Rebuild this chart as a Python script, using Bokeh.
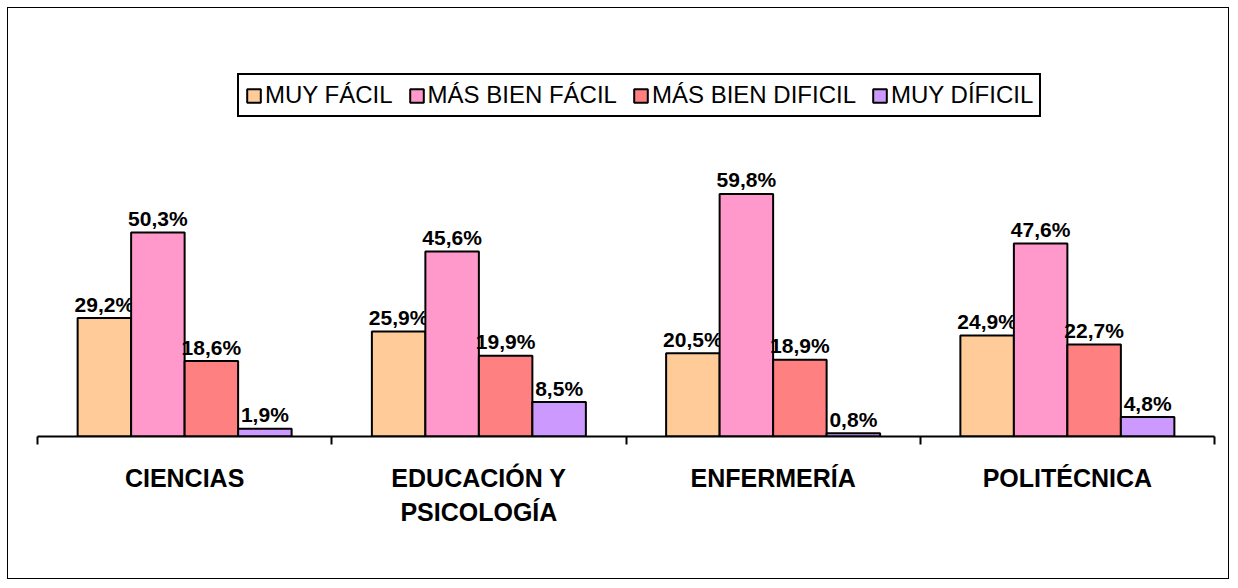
from bokeh.plotting import figure
from bokeh.models import Range1d, FixedTicker, Legend, LegendItem, ColumnDataSource
from bokeh.transform import dodge
from bokeh.core.properties import value
from bokeh.embed import file_html
from bokeh.resources import INLINE

# ---- data ----
categories = ["CIENCIAS", "EDUCACIÓN Y PSICOLOGÍA", "ENFERMERÍA", "POLITÉCNICA"]
category_labels = ["CIENCIAS", "EDUCACIÓN Y\nPSICOLOGÍA", "ENFERMERÍA", "POLITÉCNICA"]
series_names = ["MUY FÁCIL", "MÁS BIEN FÁCIL", "MÁS BIEN DIFICIL", "MUY DÍFICIL"]
muy_facil = [29.2, 25.9, 20.5, 24.9]
mas_bien_facil = [50.3, 45.6, 59.8, 47.6]
mas_bien_dificil = [18.6, 19.9, 18.9, 22.7]
muy_dificil = [1.9, 8.5, 0.8, 4.8]
series_values = [muy_facil, mas_bien_facil, mas_bien_dificil, muy_dificil]
colors = ["#FFCC99", "#FF99CC", "#FF8080", "#CC99FF"]

FONT = "Liberation Sans"
W, H = 1222, 572
n = len(categories)
bw = 1 / 5.5  # four bars plus a 150% gap per category
centers = [i + 0.5 for i in range(n)]  # category slot centres on the x scale

p = figure(width=W, height=H, output_backend="svg", toolbar_location=None, title=None,
           x_range=Range1d(0, n), y_range=Range1d(0, 105.5),
           y_axis_location=None,
           min_border_left=29, min_border_right=16, min_border_top=0, min_border_bottom=144)
p.xgrid.visible = False
p.ygrid.visible = False
p.outline_line_color = None
p.background_fill_color = "white"
p.border_fill_color = "white"
p.styles = {"border": "1px solid black", "margin": "7px 0 0 7px"}


def fmt(v):
    return f"{v:.1f}".replace(".", ",") + "%"


items = []
for j, (name, vals) in enumerate(zip(series_names, series_values)):
    src = ColumnDataSource(dict(xc=centers, cat=categories, val=vals,
                                label=[fmt(v) for v in vals]))
    xx = dodge("xc", (j - 1.5) * bw)
    r = p.vbar(x=xx, top="val", width=bw, source=src,
               fill_color=colors[j], line_color="black", line_width=2)
    p.text(x=xx, y="val", text="label", source=src,
           text_align="center", text_baseline="alphabetic", y_offset=-14,
           text_font=value(FONT), text_font_style="bold", text_font_size="21px",
           text_color="black")
    items.append(LegendItem(label=name, renderers=[r]))

ax = p.xaxis[0]
ax.ticker = FixedTicker(ticks=centers, minor_ticks=list(range(n + 1)))
ax.major_label_overrides = {c: lab for c, lab in zip(centers, category_labels)}
ax.major_tick_line_color = None
ax.major_tick_out = 0
ax.major_tick_in = 0
ax.minor_tick_in = 0
ax.minor_tick_out = 8
ax.minor_tick_line_color = "black"
ax.minor_tick_line_width = 2
ax.axis_line_color = "black"
ax.axis_line_width = 2
ax.major_label_standoff = 19
ax.major_label_text_font = FONT
ax.major_label_text_font_style = "bold"
ax.major_label_text_font_size = "25px"
ax.major_label_text_line_height = 1.22
ax.major_label_text_color = "black"

legend = Legend(items=items, orientation="horizontal", location=(200, 319),
                glyph_width=17, glyph_height=17, label_standoff=3, spacing=15, padding=6,
                border_line_color="black", border_line_width=2, border_line_alpha=1,
                background_fill_color="white", background_fill_alpha=1,
                label_text_font=FONT, label_text_font_size="24px", label_text_color="black",
                margin=0)
p.add_layout(legend)

open("out.html", "w").write(file_html(p, INLINE))
